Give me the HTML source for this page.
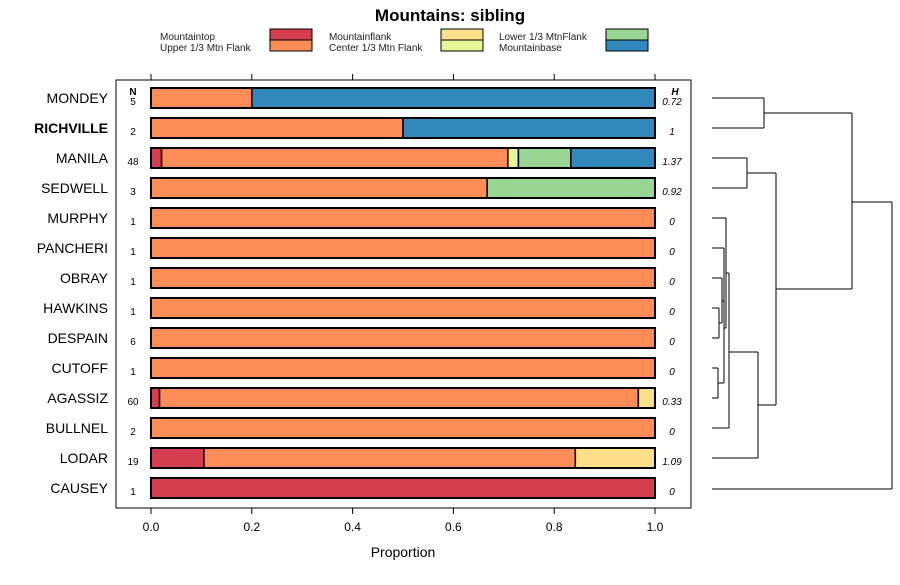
<!DOCTYPE html>
<html><head><meta charset="utf-8"><style>
body{margin:0;background:#fff;font-family:"Liberation Sans",sans-serif}
</style></head><body>
<svg id="c" width="900" height="580" xmlns="http://www.w3.org/2000/svg" font-family="Liberation Sans, sans-serif">
<text x="450" y="21" text-anchor="middle" font-size="17" font-weight="bold">Mountains: sibling</text>
<g id="legend"></g>
<rect x="116" y="80" width="575" height="428" fill="none" stroke="#000" stroke-width="1"/>
<g id="axis"></g>
<g id="bars"></g>
<g id="dendro" stroke="#000" stroke-width="1" fill="none"></g>
<text x="403" y="557" text-anchor="middle" font-size="14">Proportion</text>
<text x="133" y="95" text-anchor="middle" font-size="10" font-weight="bold">N</text>
<text x="675" y="95" text-anchor="middle" font-size="10" font-weight="bold" font-style="italic">H</text>
</svg>
<script>
const NS="http://www.w3.org/2000/svg";
const categories=["Mountaintop","Upper 1/3 Mtn Flank","Mountainflank","Center 1/3 Mtn Flank","Lower 1/3 MtnFlank","Mountainbase"];
const colors=["#d53e4f","#fc8d59","#fee08b","#e6f598","#99d594","#3288bd"];
const sites=["MONDEY","RICHVILLE","MANILA","SEDWELL","MURPHY","PANCHERI","OBRAY","HAWKINS","DESPAIN","CUTOFF","AGASSIZ","BULLNEL","LODAR","CAUSEY"];
const nValues=[5,2,48,3,1,1,1,1,6,1,60,2,19,1];
const hValues=["0.72","1","1.37","0.92","0","0","0","0","0","0","0.33","0","1.09","0"];
const props=[
[0,0.2,0,0,0,0.8],
[0,0.5,0,0,0,0.5],
[0.021,0.687,0,0.021,0.104,0.167],
[0,0.667,0,0,0.333,0],
[0,1,0,0,0,0],[0,1,0,0,0,0],[0,1,0,0,0,0],[0,1,0,0,0,0],[0,1,0,0,0,0],[0,1,0,0,0,0],
[0.017,0.95,0.033,0,0,0],
[0,1,0,0,0,0],
[0.105,0.737,0.158,0,0,0],
[1,0,0,0,0,0]];
const ticks=[0,0.2,0.4,0.6,0.8,1.0];
const xs=v=>151+v*504, ys=i=>98+i*30;
function el(t,a,p,txt){const e=document.createElementNS(NS,t);for(const k in a)e.setAttribute(k,a[k]);if(txt!==undefined)e.textContent=txt;p.appendChild(e);return e;}
const leg=document.getElementById('legend');
const lx=[160,329,499],sx=[270,441,606];
categories.forEach((c,i)=>{const col=Math.floor(i/2),r=i%2;
const t=el('text',{x:lx[col],y:40+r*11,'font-size':10,fill:'#222'},leg,c);


const s=el('rect',{x:sx[col],y:29+r*11,width:42,height:11,fill:colors[i],stroke:'#000','stroke-width':1},leg);

});
const ax=document.getElementById('axis');
ticks.forEach(t=>{el('line',{x1:xs(t),x2:xs(t),y1:508,y2:514,stroke:'#000'},ax);el('line',{x1:xs(t),x2:xs(t),y1:74,y2:80,stroke:'#000'},ax);
const l=el('text',{x:xs(t),y:531,'text-anchor':'middle','font-size':12},ax,t.toFixed(1));

});
const bg=document.getElementById('bars');
sites.forEach((s,i)=>{const y=ys(i);
const lab=el('text',{x:108,y:y+5,'text-anchor':'end','font-size':14,'font-weight':s==='RICHVILLE'?'bold':'normal'},bg,s);


const n=el('text',{x:133,y:y+7,'text-anchor':'middle','font-size':10},bg,nValues[i]);


const h=el('text',{x:672,y:y+7,'text-anchor':'middle','font-size':10,'font-style':'italic'},bg,hValues[i]);


let acc=0;props[i].forEach((p,k)=>{if(p>0){const r=el('rect',{x:xs(acc),y:y-10,width:xs(acc+p)-xs(acc),height:20,fill:colors[k],stroke:'#000','stroke-width':1.5},bg);

}acc+=p;});
const o=el('rect',{x:xs(0),y:y-10,width:xs(1)-xs(0),height:20,fill:'none',stroke:'#000','stroke-width':2},bg);

});
const dg=document.getElementById('dendro');
const segs=[[712,98,764,98],[712,128,764,128],[764,98,764,128],[764,113,852,113],
[712,158,747,158],[712,188,747,188],[747,158,747,188],[747,173,776,173],
[712,308,719,308],[712,338,719,338],[719,308,719,338],[719,323,722,323],[712,278,722,278],[722,278,722,323],[722,301,724,301],
[712,368,718,368],[712,398,718,398],[718,368,718,398],[718,383,724,383],[712,248,724,248],[724,248,724,383],[724,328,726,328],
[712,218,726,218],[726,218,726,328],[726,273,729,273],[712,428,729,428],[729,273,729,428],[729,352,758,352],
[712,458,758,458],[758,352,758,458],[758,405,776,405],[776,173,776,405],[776,289,852,289],[852,113,852,289],[852,202,892,202],[712,489,892,489],[892,202,892,489]];
segs.forEach(s=>{const l=el('line',{x1:s[0],y1:s[1],x2:s[2],y2:s[3]},dg);

});
</script>
</body></html>
